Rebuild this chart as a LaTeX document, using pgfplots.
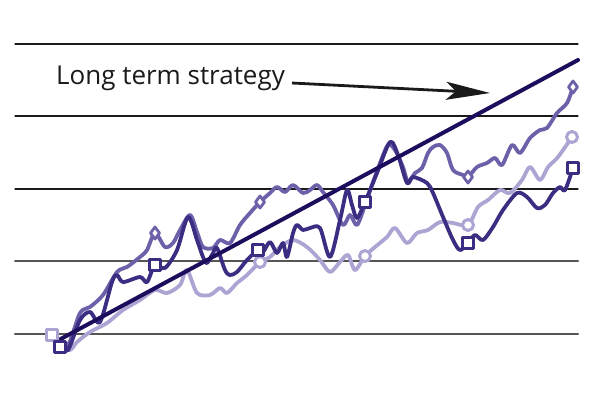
\documentclass[border=0pt]{standalone}
\usepackage{pgfplots}
\pgfplotsset{compat=1.18}
\usetikzlibrary{arrows.meta}
\usepackage{fontspec}
\setmainfont{Open Sans}

\definecolor{navyline}{HTML}{1D0D5C}
\definecolor{navy}{HTML}{3B2D82}
\definecolor{purp}{HTML}{6E5FA9}
\definecolor{lav}{HTML}{ADA4D3}
\definecolor{gridtop}{HTML}{1A1A1A}
\definecolor{gridlow}{HTML}{555555}

\begin{document}
\begin{tikzpicture}
\begin{axis}[
    width=600bp, height=400bp, scale only axis,
    xmin=0, xmax=600, ymin=0, ymax=400,
    y dir=reverse,
    hide axis, clip=false,
    every axis plot/.append style={line join=round, line cap=round},
]
\path (rel axis cs:0,0) rectangle (rel axis cs:1,1);

% grid
\addplot[gridtop, line width=1.2bp] coordinates {(15,44) (578,44)};
\addplot[gridtop, line width=1.2bp] coordinates {(15,116) (578,116)};
\addplot[gridtop, line width=1.3bp] coordinates {(15,189) (578,189)};
\addplot[gridlow, line width=2bp] coordinates {(15,261) (578,261)};
\addplot[gridlow, line width=2.2bp] coordinates {(15,334) (578,334)};

% light series
\addplot[lav, line width=3.8bp, smooth, tension=0.5] coordinates {
(52,335) (62,345) (70,350) (77,342) (90,332) (107,323) (123,310) (140,300)
(155,290) (167,293) (180,285) (187,270) (197,293) (210,295) (220,288) (227,293)
(237,283) (247,275) (260,262) (270,257) (280,247) (293,240) (307,247) (320,260)
(330,272) (340,262) (348,255) (355,270) (365,256) (375,247) (387,237) (395,228)
(407,243) (417,233) (428,230) (440,222) (453,223) (468,225) (478,207) (488,200)
(500,190) (510,193) (522,180) (530,167) (540,180) (548,167) (558,157) (572,137)};

% purple series
\addplot[purp, line width=3.8bp, smooth, tension=0.5] coordinates {
(57,342) (68,345) (80,313) (90,307) (103,295) (117,272) (127,267) (140,257)
(147,250) (155,233) (165,247) (173,243) (180,230) (190,215) (197,232) (203,247)
(213,248) (220,240) (230,243) (240,225) (250,213) (260,202) (270,193) (277,187)
(285,192) (293,185) (303,193) (310,190) (317,185) (323,192) (333,205) (343,225)
(350,215) (357,225) (365,205) (372,185) (380,163) (388,145) (395,150) (403,167)
(408,182) (415,173) (422,168) (428,153) (433,147) (440,145) (447,153) (453,170)
(463,175) (468,177) (477,167) (487,163) (495,158) (502,165) (512,145) (520,153)
(530,138) (540,130) (547,128) (557,113) (567,103) (573,87)};

% navy series
\addplot[navy, line width=3.8bp, smooth, tension=0.5] coordinates {
(60,347) (68,350) (80,320) (90,312) (100,322) (112,282) (117,275) (123,282)
(140,277) (147,282) (155,265) (165,268) (177,250) (188,217) (197,240) (203,257)
(207,263) (213,253) (217,248) (225,270) (230,275) (237,272) (247,260) (258,250)
(263,252) (270,242) (277,253) (283,243) (287,257) (293,233) (297,225) (303,230)
(310,228) (320,228) (330,257) (340,220) (347,190) (352,205) (357,218) (365,202)
(377,173) (390,142) (398,155) (407,183) (413,177) (427,183) (433,193) (443,217)
(453,240) (460,250) (468,243) (475,235) (483,240) (493,227) (503,210) (517,193)
(527,197) (537,208) (545,205) (553,193) (560,187) (565,190) (573,168)};

% markers
\addplot[only marks, mark=square*, mark size=5.5bp, lav, line width=3bp,
    mark options={fill=white}] coordinates {(52,335)};
\addplot[only marks, mark=*, mark size=5.5bp, lav, line width=3bp,
    mark options={fill=white}] coordinates {(260,262) (365,256) (468,225) (572,137)};
\addplot[only marks, mark=diamond*, mark size=6bp, purp, line width=2.8bp,
    mark options={fill=white}] coordinates {(155,233) (260,202) (468,177) (573,87)};
\addplot[only marks, mark=square*, mark size=5.5bp, navy, line width=3bp,
    mark options={fill=white}] coordinates {(60,347) (155,265) (258,250) (365,202) (468,243) (573,168)};

% long term strategy
\addplot[navyline, line width=4bp] coordinates {(57,341) (578,60)};

\node[anchor=base west, inner sep=0pt, text=gridtop, font=\fontsize{26bp}{31bp}\selectfont]
    at (axis cs:56,84) {Long term strategy};
\draw[gridtop, line width=2.8bp, -{Stealth[length=44bp, width=18bp, inset=10bp]}]
    (axis cs:292,83) -- (axis cs:490,93);
\end{axis}
\end{tikzpicture}
\end{document}
